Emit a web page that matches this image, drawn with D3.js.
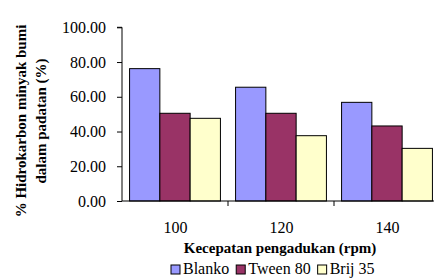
<!DOCTYPE html>
<html><head><meta charset="utf-8">
<script src="https://cdn.jsdelivr.net/npm/d3@7"></script>
<style>
@font-face { font-family: "ChartSerif"; src: local("Liberation Serif"), local("LiberationSerif"), local("Liberation Serif Regular"); font-weight: normal; }
@font-face { font-family: "ChartSerif"; src: local("Liberation Serif Bold"), local("LiberationSerif-Bold"); font-weight: bold; }
</style>
</head>
<body style="margin:0;background:#fff">
<svg id="c" width="434" height="280"></svg>
<script>
const categories = ["100", "120", "140"];
const seriesNames = ["Blanko", "Tween 80", "Brij 35"];
const blanko = [76.2, 65.5, 56.8];
const tween80 = [50.5, 50.5, 43.2];
const brij35 = [47.6, 37.6, 30.3];
const yTicks = [0, 20, 40, 60, 80, 100];
const colors = ["#9999FF", "#993366", "#FFFFCC"];

(function () {
const FONT = "'Liberation Serif', ChartSerif, 'Times New Roman', Tinos, serif";
const seriesValues = [blanko, tween80, brij35];
const svg = d3.select("#c").attr("font-family", FONT);
const mLeft = 122, mTop = 27.3, mBottom = 201, bandW = 106;

const x = d3.scaleBand().domain(categories).range([mLeft, mLeft + bandW * categories.length]).paddingInner(0).paddingOuter(0);
const xs = d3.scaleBand().domain(seriesNames).range([0, x.bandwidth()]).paddingInner(0).paddingOuter(0.25);
const y = d3.scaleLinear().domain([0, 100]).range([mBottom, mTop]);

const g = svg.append("g");
categories.forEach((c, ci) => {
  seriesNames.forEach((s, si) => {
    const v = seriesValues[si][ci];
    g.append("rect")
      .attr("x", x(c) + xs(s))
      .attr("y", y(v))
      .attr("width", xs.bandwidth())
      .attr("height", y(0) - y(v))
      .attr("fill", colors[si])
      .attr("stroke", "#000")
      .attr("stroke-width", 1);
  });
});

const ya = svg.append("g").attr("transform", `translate(${mLeft},0)`)
  .call(d3.axisLeft(y).tickValues(yTicks).tickFormat(d3.format(".2f")).tickSize(5).tickPadding(11));
ya.attr("font-family", FONT).attr("font-size", 16);
ya.select(".domain").attr("d", `M-5,${y(100)}H0V${y(0)}`);
ya.selectAll("text").attr("fill", "#000");

const xa = svg.append("g").attr("transform", `translate(0,${mBottom})`);
xa.append("line").attr("x1", mLeft).attr("x2", 434).attr("y1", 0).attr("y2", 0).attr("stroke", "#000");
categories.slice(1).forEach(c => {
  xa.append("line").attr("x1", x(c)).attr("x2", x(c)).attr("y1", 0).attr("y2", 5).attr("stroke", "#000");
});
categories.forEach(c => {
  xa.append("text").attr("x", x(c) + x.bandwidth() / 2 + 0.5).attr("y", 31.5)
    .attr("text-anchor", "middle").attr("font-size", 16).text(c);
});

svg.append("text").attr("x", 280).attr("y", 252.5).attr("text-anchor", "middle")
  .attr("font-size", 15).attr("font-weight", "bold").text("Kecepatan pengadukan (rpm)");
const yl = svg.append("g").attr("transform", "translate(0,121) rotate(-90)");
yl.append("text").attr("x", 0).attr("y", 26).attr("text-anchor", "middle")
  .attr("font-size", 15).attr("font-weight", "bold").text("% Hidrokarbon minyak bumi");
yl.append("text").attr("x", 0).attr("y", 46).attr("text-anchor", "middle")
  .attr("font-size", 15).attr("font-weight", "bold").text("dalam padatan (%)");

const lg = svg.append("g");
let lx = 171;
seriesNames.forEach((s, i) => {
  lg.append("rect").attr("x", lx).attr("y", 265).attr("width", 9).attr("height", 9)
    .attr("fill", colors[i]).attr("stroke", "#000");
  const t = lg.append("text").attr("x", lx + 12).attr("y", 273.5).attr("font-size", 16).text(s);
  lx += 12 + t.node().getComputedTextLength() + 7;
});
svg.selectAll("text").attr("font-family", FONT);
})();
</script></body></html>
